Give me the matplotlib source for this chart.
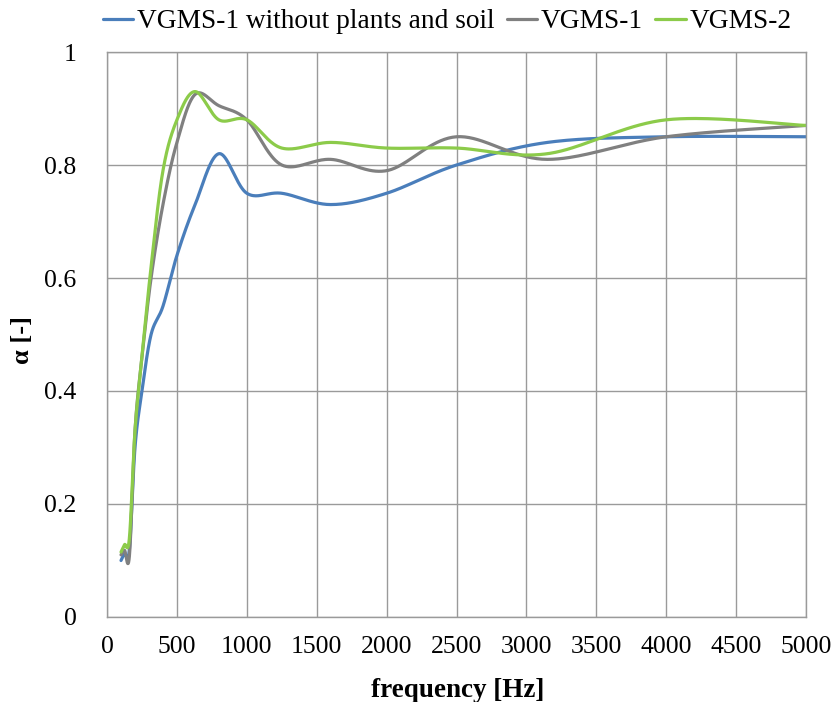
import numpy as np
import matplotlib
matplotlib.use("Agg")
import matplotlib.pyplot as plt

freq = [100, 125, 160, 200, 250, 315, 400, 500, 630, 800, 1000, 1250, 1600, 2000, 2500, 3150, 4000, 5000]
vgms1_bare = [0.10, 0.112, 0.12, 0.30, 0.40, 0.50, 0.55, 0.64, 0.73, 0.82, 0.75, 0.75, 0.73, 0.75, 0.80, 0.84, 0.85, 0.85]
vgms1 = [0.11, 0.118, 0.108, 0.33, 0.46, 0.60, 0.73, 0.84, 0.925, 0.905, 0.88, 0.80, 0.81, 0.79, 0.85, 0.81, 0.85, 0.87]
vgms2 = [0.115, 0.128, 0.14, 0.33, 0.46, 0.62, 0.79, 0.88, 0.93, 0.88, 0.88, 0.83, 0.84, 0.83, 0.83, 0.82, 0.88, 0.87]

labels = ["VGMS-1 without plants and soil", "VGMS-1", "VGMS-2"]
colors = ["#4A7EBB", "#808080", "#8CCB4A"]
xticks = list(range(0, 5001, 500))
yticks = [0, 0.2, 0.4, 0.6, 0.8, 1.0]
ytick_labels = ["0", "0.2", "0.4", "0.6", "0.8", "1"]


def excel_smooth(x, y, n=40):
    x = np.asarray(x, float)
    y = np.asarray(y, float)
    px = np.concatenate([[x[0]], x, [x[-1]]])
    py = np.concatenate([[y[0]], y, [y[-1]]])
    ox, oy = [], []
    t = np.linspace(0, 1, n)
    for i in range(1, len(px) - 2):
        p0 = np.array([px[i - 1], py[i - 1]])
        p1 = np.array([px[i], py[i]])
        p2 = np.array([px[i + 1], py[i + 1]])
        p3 = np.array([px[i + 2], py[i + 2]])
        c1 = p1 + (p2 - p0) / 6.0
        c2 = p2 - (p3 - p1) / 6.0
        b = ((1 - t) ** 3)[:, None] * p1 + (3 * (1 - t) ** 2 * t)[:, None] * c1 \
            + (3 * (1 - t) * t ** 2)[:, None] * c2 + (t ** 3)[:, None] * p2
        ox.extend(b[:, 0])
        oy.extend(b[:, 1])
    return np.array(ox), np.array(oy)


plt.rcParams['font.family'] = ['Liberation Serif', 'DejaVu Serif']
fig = plt.figure(figsize=(8.33, 7.02), dpi=100)
ax = fig.add_axes([0.1285, 0.1211, 0.8391, 0.8048])

for data, lab, c in zip([vgms1_bare, vgms1, vgms2], labels, colors):
    sx, sy = excel_smooth(freq, data)
    ax.plot(sx, sy, color=c, lw=2.3, label=lab, solid_capstyle='round')

ax.set_xlim(0, 5000)
ax.set_ylim(0, 1)
ax.set_xticks(xticks)
ax.set_yticks(yticks)
ax.set_yticklabels(ytick_labels)
ax.grid(True, color='#9a9a9a', lw=1.0)
ax.set_axisbelow(True)
for s in ax.spines.values():
    s.set_color('#9a9a9a')
    s.set_linewidth(1.0)
ax.tick_params(axis='both', length=0, labelsize=18.5)
ax.tick_params(axis='x', pad=14)
ax.tick_params(axis='y', pad=22)

fig.text(458 / 833, 1 - 697 / 702, "frequency [Hz]", fontsize=19.5, fontweight='bold',
         ha='center', va='baseline')
fig.text(22 / 833, 1 - 340 / 702, "α [-]", fontsize=19, fontweight='bold',
         ha='center', va='center', rotation=90)

leg = fig.legend(loc='center', bbox_to_anchor=(0.537, 0.969), ncol=3, frameon=False,
                 fontsize=19.7, handlelength=1.1, handletextpad=0.15, columnspacing=0.45,
                 borderaxespad=0.0)

fig.savefig("out.png", dpi=100)
